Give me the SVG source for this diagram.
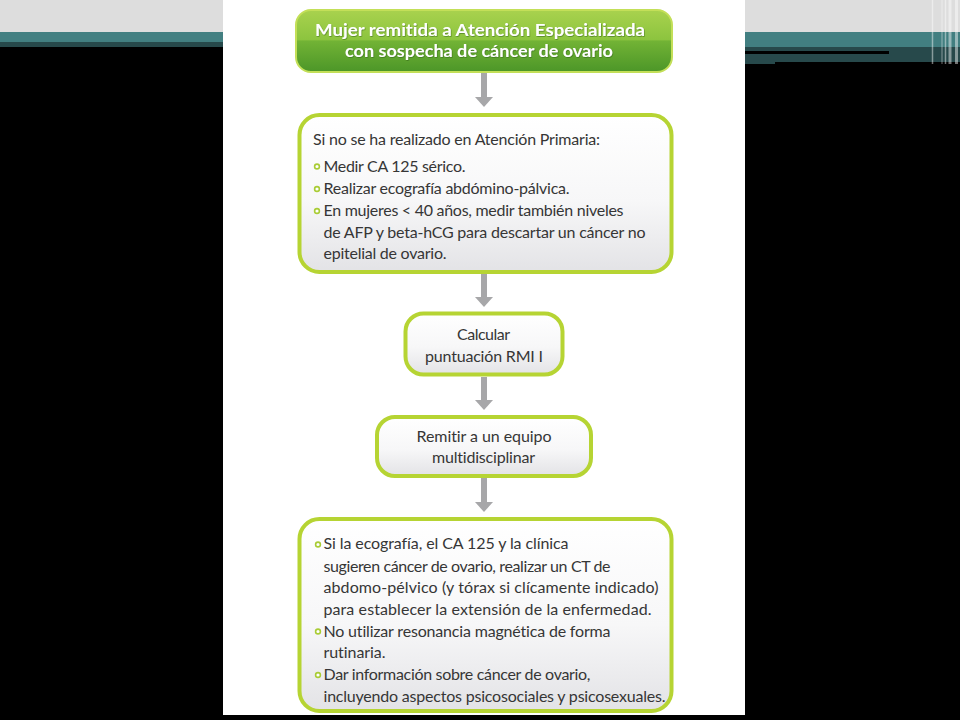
<svg xmlns="http://www.w3.org/2000/svg" width="960" height="720" viewBox="0 0 960 720">
  <style>
    .box { stroke: #b6d433; stroke-width: 4; fill: url(#boxFill); }
    .txt { font-family: Lato, "Liberation Sans", sans-serif; font-size: 16px; fill: #363636; font-variant-ligatures: none; }
    .ctr { text-anchor: middle; }
    .hdr { font-family: Lato, "Liberation Sans", sans-serif; font-size: 17.5px; font-weight: bold; fill: #ffffff; text-anchor: middle; font-variant-ligatures: none; }
    .bul { fill: #ffffff; stroke: #a9cc35; stroke-width: 1.6; }
    .arr { stroke: #a7a7a9; stroke-width: 6; fill: none; marker-end: url(#head); }
  </style>
  <defs>
    <linearGradient id="boxFill" x1="0" y1="0" x2="0" y2="1">
      <stop offset="0" stop-color="#ffffff"/>
      <stop offset="0.55" stop-color="#f7f7f8"/>
      <stop offset="1" stop-color="#e3e3e6"/>
    </linearGradient>
    <linearGradient id="greenFill" x1="0" y1="0" x2="0" y2="1">
      <stop offset="0" stop-color="#a9d24e"/>
      <stop offset="0.48" stop-color="#8cc43f"/>
      <stop offset="0.5" stop-color="#72b335"/>
      <stop offset="1" stop-color="#4c9628"/>
    </linearGradient>
    <filter id="shadow" x="-5%" y="-20%" width="110%" height="140%">
      <feDropShadow dx="0.6" dy="0.8" stdDeviation="0.6" flood-color="#2d5a14" flood-opacity="0.6"/>
    </filter>
    <marker id="head" markerUnits="userSpaceOnUse" viewBox="0 0 10 18" refX="0" refY="9" markerWidth="10" markerHeight="18" orient="auto">
      <path d="M0,0 L10,9 L0,18 Z" fill="#a7a7a9"/>
    </marker>
  </defs>

  <!-- slide background -->
  <rect x="0" y="0" width="960" height="720" fill="#000000"/>
  <rect x="0" y="0" width="960" height="32" fill="#dddddd"/>
  <rect x="0" y="32" width="223" height="10" fill="#427f81"/>
  <rect x="0" y="42" width="223" height="5" fill="#27494b"/>
  <rect x="745" y="32" width="215" height="15" fill="#427f81"/>
  <rect x="745" y="47" width="215" height="15" fill="#27494b"/>
  <rect x="745" y="62" width="30" height="2" fill="#27494b"/>
  <rect x="745" y="51" width="144" height="3" fill="#000000"/>
  <g stroke="#ffffff" stroke-opacity="0.45">
    <line x1="932.5" y1="0" x2="932.5" y2="64" stroke-width="1.5"/>
    <line x1="942" y1="0" x2="942" y2="64" stroke-width="1"/>
    <line x1="945.5" y1="0" x2="945.5" y2="64" stroke-width="1.5"/>
    <line x1="950" y1="0" x2="950" y2="64" stroke-width="3"/>
    <line x1="956.5" y1="0" x2="956.5" y2="64" stroke-width="3"/>
  </g>

  <!-- white picture panel -->
  <rect x="223" y="0" width="522" height="715" fill="#ffffff"/>

  <!-- connectors -->
  <g id="connectors">
    <line class="arr" x1="484" y1="72" x2="484" y2="97"/>
    <line class="arr" x1="484" y1="274" x2="484" y2="297"/>
    <line class="arr" x1="484" y1="377" x2="484" y2="400"/>
    <line class="arr" x1="484" y1="478" x2="484" y2="502"/>
  </g>

  <g id="n1">
    <rect x="296" y="10" width="376" height="62" rx="15" fill="url(#greenFill)" stroke="#c3df58" stroke-width="2"/>
    <g filter="url(#shadow)">
      <text class="hdr" x="480" y="36" textLength="330" lengthAdjust="spacingAndGlyphs">Mujer remitida a Atención Especializada</text>
      <text class="hdr" x="479" y="57" textLength="268" lengthAdjust="spacingAndGlyphs">con sospecha de cáncer de ovario</text>
    </g>
  </g>

  <g id="n2">
    <rect class="box" x="299.5" y="115" width="372" height="157" rx="20"/>
    <text class="txt" x="313" y="144.5" textLength="287">Si no se ha realizado en Atención Primaria:</text>
    <circle class="bul" cx="317" cy="166.5" r="2.4"/>
    <text class="txt" x="323.5" y="171.5" textLength="142">Medir CA 125 sérico.</text>
    <circle class="bul" cx="317" cy="189" r="2.4"/>
    <text class="txt" x="323.5" y="194" textLength="246">Realizar ecografía abdómino-pálvica.</text>
    <circle class="bul" cx="317" cy="211" r="2.4"/>
    <text class="txt" x="323.5" y="216" textLength="300">En mujeres &lt; 40 años, medir también niveles</text>
    <text class="txt" x="323.5" y="237.7" textLength="322">de AFP y beta-hCG para descartar un cáncer no</text>
    <text class="txt" x="323.5" y="259.3" textLength="123">epitelial de ovario.</text>
  </g>

  <g id="n3">
    <rect class="box" x="405.5" y="313.5" width="157" height="61" rx="18"/>
    <text class="txt ctr" x="483.5" y="339.5" textLength="53">Calcular</text>
    <text class="txt ctr" x="484" y="361.5" textLength="118">puntuación RMI I</text>
  </g>

  <g id="n4">
    <rect class="box" x="377" y="417" width="214" height="59" rx="18"/>
    <text class="txt ctr" x="484" y="441.7" textLength="135">Remitir a un equipo</text>
    <text class="txt ctr" x="483.5" y="463.3" textLength="103">multidisciplinar</text>
  </g>

  <g id="n5">
    <rect class="box" x="299.5" y="519" width="372" height="192" rx="20"/>
    <circle class="bul" cx="318" cy="544.5" r="2.4"/>
    <text class="txt" x="323.5" y="549.3" textLength="245">Si la ecografía, el CA 125 y la clínica</text>
    <text class="txt" x="323.5" y="571.5" textLength="287">sugieren cáncer de ovario, realizar un CT de</text>
    <text class="txt" x="323.5" y="593.3" textLength="335">abdomo-pélvico (y tórax si clícamente indicado)</text>
    <text class="txt" x="323.5" y="615" textLength="328">para establecer la extensión de la enfermedad.</text>
    <circle class="bul" cx="318" cy="631.5" r="2.4"/>
    <text class="txt" x="323.5" y="636.7" textLength="287">No utilizar resonancia magnética de forma</text>
    <text class="txt" x="323.5" y="658.3" textLength="62">rutinaria.</text>
    <circle class="bul" cx="318" cy="675" r="2.4"/>
    <text class="txt" x="323.5" y="680" textLength="267">Dar información sobre cáncer de ovario,</text>
    <text class="txt" x="323.5" y="701.7" textLength="342">incluyendo aspectos psicosociales y psicosexuales.</text>
  </g>

  <!-- panel bottom edge cuts off the last box -->
  <rect x="223" y="715" width="522" height="5" fill="#000000"/>
</svg>
